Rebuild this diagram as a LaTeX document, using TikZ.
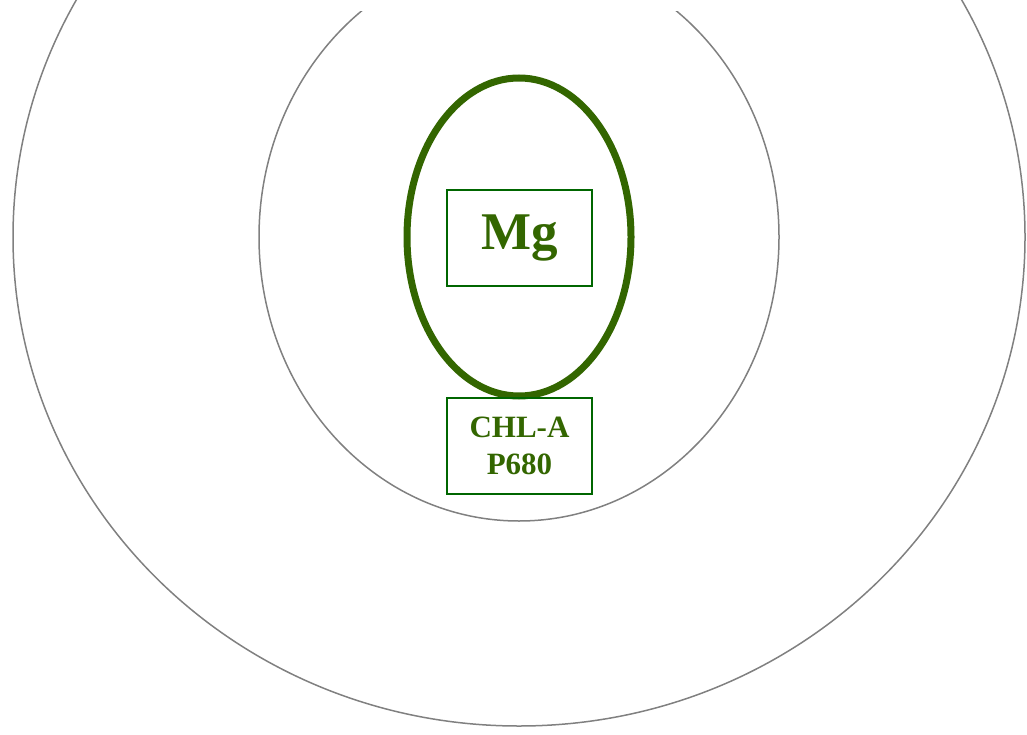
\documentclass[tikz,border=0pt]{standalone}
\usepackage{fontspec}
\setmainfont{Liberation Serif}
\usetikzlibrary{shapes.geometric}

\definecolor{leaf}{HTML}{336600}
\definecolor{boxgreen}{HTML}{006600}
\definecolor{ringgray}{HTML}{808080}

\begin{document}
\begin{tikzpicture}[x=1pt, y=-1pt]
    \tikzset{ring/.style={draw=ringgray, line width=1.5pt}}
    \tikzset{tag/.style={rectangle, draw=boxgreen, line width=1.8pt, minimum width=145pt, minimum height=96pt, inner sep=0pt, text=leaf, align=center}}

    \useasboundingbox (0,0) rectangle (1027,735);
    \clip (0,0) rectangle (1027,735);

    % ── RINGS ────────────────────────────────────────────
    \draw[ring] (519,237) ellipse [x radius=506, y radius=489];
    \begin{scope}
        \clip (0,12) rectangle (1027,735);
        \draw[ring] (519,237) ellipse [x radius=260, y radius=284];
    \end{scope}

    % ── CORE ─────────────────────────────────────────────
    \node[ellipse, draw=leaf, line width=7pt, minimum width=224pt, minimum height=318pt, inner sep=0pt] (core) at (519,237) {};

    % Etichette
    \node[tag, font=\bfseries\fontsize{53}{60}\selectfont] (mg) at (519.5,238) {Mg};
    \node[tag, font=\bfseries\fontsize{31}{37}\selectfont] (chl) at (519.5,446) {CHL-A\\P680};

\end{tikzpicture}
\end{document}
